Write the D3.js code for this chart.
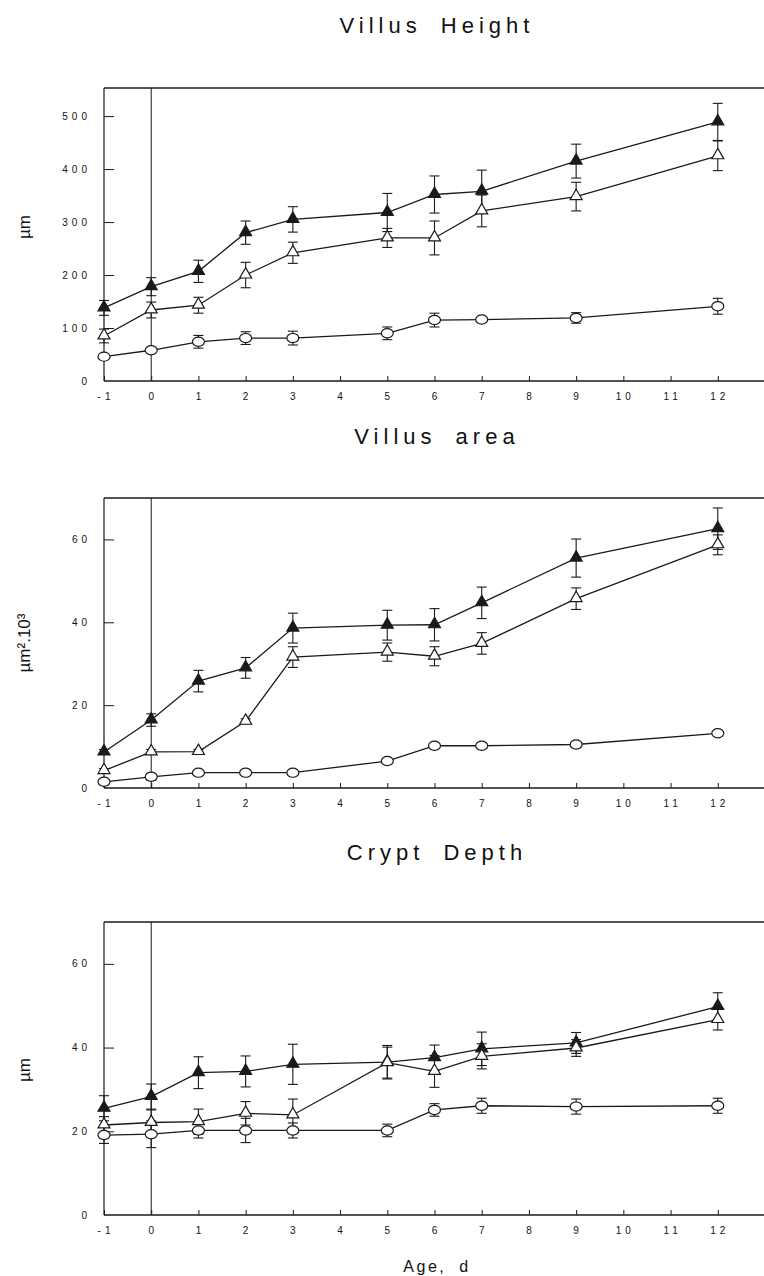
<!DOCTYPE html>
<html>
<head>
<meta charset="utf-8">
<script src="https://cdn.jsdelivr.net/npm/d3@7"></script>
<style>
  html, body { margin: 0; padding: 0; background: #fff; }
  svg { display: block; }
  text { font-family: "Liberation Sans", Arial, sans-serif; fill: #111; }
</style>
</head>
<body>
<svg id="chart" width="764" height="1276"></svg>
<script>
// ---------- DATA ----------
const days = [-1, 0, 1, 2, 3, 5, 6, 7, 9, 12];
const xTickValues = [-1, 0, 1, 2, 3, 4, 5, 6, 7, 8, 9, 10, 11, 12];

const panelTitles = ["Villus Height", "Villus area", "Crypt Depth"];
const panelYLabels = ["µm", "µm².10³", "µm"];
const heightTicks = [0, 100, 200, 300, 400, 500];
const areaTicks = [0, 20, 40, 60];
const cryptTicks = [0, 20, 40, 60];

// Villus height (µm)
const heightFilled    = [138, 178, 207, 280, 305, 318, 352, 358, 415, 489];
const heightFilledErr = [14, 17, 21, 22, 24, 36, 35, 40, 32, 35];
const heightOpen      = [85, 134, 143, 200, 242, 270, 270, 321, 348, 425];
const heightOpenErr   = [13, 15, 15, 24, 20, 18, 32, 30, 27, 28];
const heightCircle    = [46, 58, 74, 81, 81, 90, 115, 116, 119, 141];
const heightCircleErr = [3, 4, 12, 12, 13, 12, 13, 3, 10, 15];

// Villus area (µm².10³)
const areaFilled    = [8.7, 16.4, 25.8, 29.0, 38.6, 39.3, 39.4, 44.7, 55.5, 62.6];
const areaFilledErr = [0.6, 1.5, 2.6, 2.5, 3.6, 3.6, 3.9, 3.8, 4.6, 5.0];
const areaOpen      = [4.2, 8.7, 8.8, 16.1, 31.6, 32.8, 31.8, 34.9, 45.7, 58.7];
const areaOpenErr   = [0.5, 0.6, 0.5, 0.6, 2.5, 2.2, 2.3, 2.6, 2.6, 2.4];
const areaCircle    = [1.5, 2.7, 3.7, 3.7, 3.7, 6.5, 10.2, 10.2, 10.5, 13.2];
const areaCircleErr = [0.3, 0.8, 0.4, 0.3, 0.3, 0.3, 0.3, 0.3, 0.3, 0.3];

// Crypt depth (µm)
const cryptFilled    = [25.5, 28.3, 34.0, 34.3, 36.0, 36.5, 37.6, 39.7, 41.1, 49.8];
const cryptFilledErr = [3.0, 3.0, 3.8, 3.7, 4.8, 4.0, 3.0, 4.0, 2.5, 3.3];
const cryptOpen      = [21.5, 22.1, 22.3, 24.3, 23.9, 36.4, 34.3, 37.9, 39.9, 46.7];
const cryptOpenErr   = [2.0, 3.0, 3.0, 2.8, 3.8, 3.7, 3.8, 3.0, 2.0, 2.5];
const cryptCircle    = [19.1, 19.3, 20.2, 20.2, 20.2, 20.2, 25.1, 26.1, 25.9, 26.1];
const cryptCircleErr = [2.0, 3.2, 1.8, 2.9, 1.8, 1.5, 1.5, 1.8, 1.8, 1.8];

const panels = [
  { title: panelTitles[0], yLabel: panelYLabels[0], yMax: 553, ticks: heightTicks,
    series: [
      { kind: "filled", v: heightFilled, e: heightFilledErr },
      { kind: "open",   v: heightOpen,   e: heightOpenErr },
      { kind: "circle", v: heightCircle, e: heightCircleErr }
    ],
    titleY: 33, top: 88, bottom: 381, yLabelY: 227 },
  { title: panelTitles[1], yLabel: panelYLabels[1], yMax: 70, ticks: areaTicks,
    series: [
      { kind: "filled", v: areaFilled, e: areaFilledErr },
      { kind: "open",   v: areaOpen,   e: areaOpenErr },
      { kind: "circle", v: areaCircle, e: areaCircleErr }
    ],
    titleY: 444, top: 498, bottom: 788, yLabelY: 643 },
  { title: panelTitles[2], yLabel: panelYLabels[2], yMax: 70, ticks: cryptTicks,
    series: [
      { kind: "filled", v: cryptFilled, e: cryptFilledErr },
      { kind: "open",   v: cryptOpen,   e: cryptOpenErr },
      { kind: "circle", v: cryptCircle, e: cryptCircleErr }
    ],
    titleY: 860, top: 922, bottom: 1215, yLabelY: 1070 }
];

// ---------- DRAW ----------
const svg = d3.select("#chart");
const left = 104, right = 765;
const x = d3.scaleLinear().domain([-1, 13]).range([left, right]);
const ink = "#1a1a1a";
const titleX = 437;

panels.forEach(p => {
  const y = d3.scaleLinear().domain([0, p.yMax]).range([p.bottom, p.top]);
  const g = svg.append("g");

  // title
  g.append("text")
    .attr("x", titleX).attr("y", p.titleY)
    .attr("text-anchor", "middle")
    .attr("font-size", 22)
    .attr("letter-spacing", 5)
    .attr("word-spacing", 8)
    .text(p.title);

  // frame: left and top
  g.append("line").attr("x1", left).attr("x2", left).attr("y1", p.top).attr("y2", p.bottom)
    .attr("stroke", ink).attr("stroke-width", 1.2);
  g.append("line").attr("x1", left).attr("x2", 764).attr("y1", p.top).attr("y2", p.top)
    .attr("stroke", ink).attr("stroke-width", 1.4);

  // vertical line at day 0
  g.append("line").attr("x1", x(0)).attr("x2", x(0)).attr("y1", p.top).attr("y2", p.bottom)
    .attr("stroke", ink).attr("stroke-width", 1);

  // x axis (inward ticks)
  const xAxis = d3.axisTop(x).tickValues(xTickValues).tickSize(5).tickSizeOuter(0).tickFormat("");
  const xa = g.append("g").attr("transform", `translate(0,${p.bottom})`).call(xAxis);
  xa.select(".domain").attr("d", `M${left},0H764`).attr("stroke", ink).attr("stroke-width", 1.4);
  xa.selectAll(".tick line").attr("stroke", ink);

  g.selectAll(".xlab").data(xTickValues).join("text")
    .attr("x", d => x(d) + 2).attr("y", p.bottom + 19)
    .attr("text-anchor", "middle")
    .attr("font-size", 10)
    .attr("letter-spacing", 4)
    .text(d => String(d));

  // y axis (inward ticks)
  const yAxis = d3.axisRight(y).tickValues(p.ticks.filter(t => t > 0)).tickSize(10).tickFormat("");
  const ya = g.append("g").attr("transform", `translate(${left},0)`).call(yAxis);
  ya.select(".domain").remove();
  ya.selectAll(".tick line").attr("stroke", ink);

  g.selectAll(".ylab").data(p.ticks).join("text")
    .attr("x", 91).attr("y", d => y(d) + 3.5)
    .attr("text-anchor", "end")
    .attr("font-size", 10)
    .attr("letter-spacing", 4)
    .text(d => String(d));

  // y label
  g.append("text")
    .attr("transform", `translate(30,${p.yLabelY}) rotate(-90)`)
    .attr("text-anchor", "middle")
    .attr("font-size", 17)
    .text(p.yLabel);

  const line = d3.line().x((d, i) => x(days[i])).y(d => y(d));

  // lines
  p.series.forEach(s => {
    g.append("path").datum(s.v).attr("d", line)
      .attr("fill", "none").attr("stroke", ink).attr("stroke-width", 1.3);
  });

  // error bars
  p.series.forEach(s => {
    const eb = g.append("g").attr("stroke", ink).attr("stroke-width", 1.1);
    s.v.forEach((v, i) => {
      const cx = x(days[i]);
      const y1 = y(v + s.e[i]), y2 = y(v - s.e[i]);
      if (Math.abs(y2 - y1) < 4) return;
      eb.append("line").attr("x1", cx).attr("x2", cx).attr("y1", y1).attr("y2", y2);
      eb.append("line").attr("x1", cx - 5).attr("x2", cx + 5).attr("y1", y1).attr("y2", y1);
      eb.append("line").attr("x1", cx - 5).attr("x2", cx + 5).attr("y1", y2).attr("y2", y2);
    });
  });

  // markers
  const tri = d3.symbol().type(d3.symbolTriangle).size(62);
  p.series.forEach(s => {
    const mg = g.append("g");
    s.v.forEach((v, i) => {
      const cx = x(days[i]), cy = y(v);
      if (s.kind === "circle") {
        mg.append("ellipse").attr("cx", cx).attr("cy", cy).attr("rx", 6).attr("ry", 4.6)
          .attr("fill", "#fff").attr("stroke", ink).attr("stroke-width", 1.2);
      } else {
        mg.append("path").attr("d", tri()).attr("transform", `translate(${cx},${cy - 0.5})`)
          .attr("fill", s.kind === "filled" ? ink : "#fff")
          .attr("stroke", ink).attr("stroke-width", 1.2);
      }
    });
  });
});

// x axis title
svg.append("text")
  .attr("x", 437).attr("y", 1272)
  .attr("text-anchor", "middle")
  .attr("font-size", 16)
  .attr("letter-spacing", 2.5)
  .attr("word-spacing", 6)
  .text("Age, d");
</script>
</body>
</html>
